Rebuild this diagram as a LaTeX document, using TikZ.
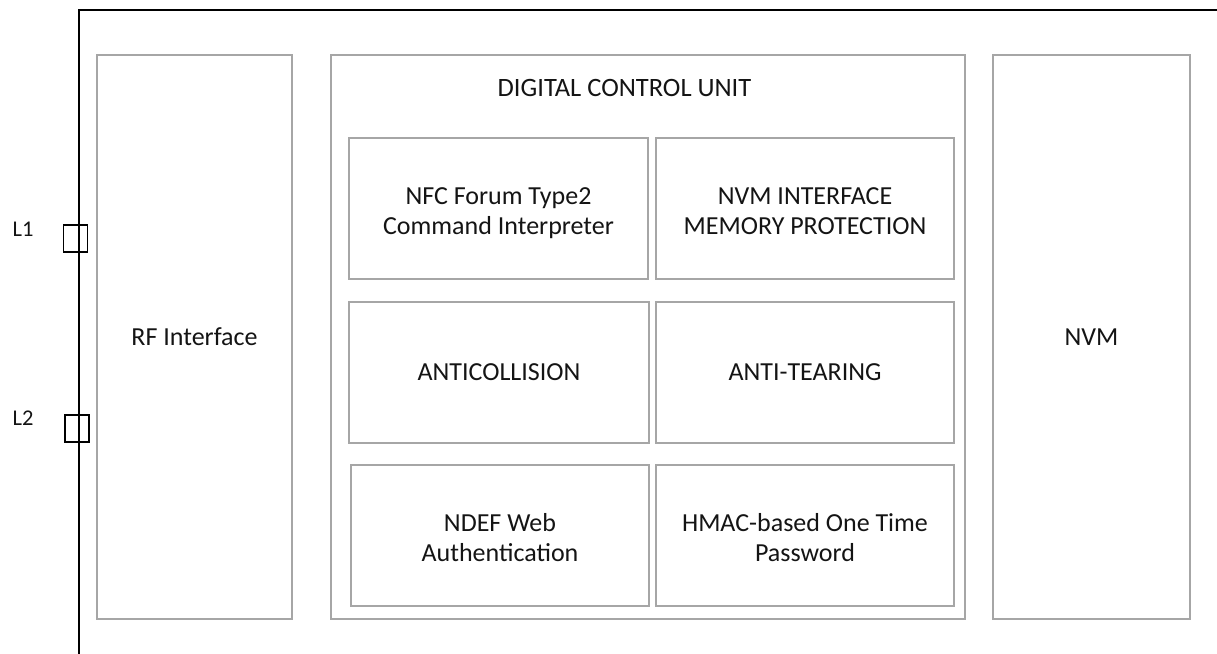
\documentclass[tikz,border=0pt]{standalone}
\usepackage{fontspec}
\setmainfont{Carlito}
\definecolor{boxgray}{RGB}{166,166,166}
\definecolor{txt}{RGB}{20,20,20}
\newcommand\twolines[2]{\rule{0pt}{28pt}#1\\#2\rule[-7pt]{0pt}{7pt}}
\begin{document}
\begin{tikzpicture}[x=1pt,y=-1pt,
  blk/.style={draw=boxgray, line width=2pt, inner sep=0pt, align=center, text=txt,
    font=\fontsize{26}{30}\selectfont},
  pin/.style={draw=black, line width=1.5pt, inner sep=0pt, minimum width=24pt, minimum height=27pt},
  pinlabel/.style={text=txt, inner sep=0pt, font=\fontsize{22.5}{26}\selectfont},
  frame/.style={draw=black, line width=2.2pt}]
\useasboundingbox (0,0) rectangle (1217,653);
% outer frame
\coordinate (tl) at (79,10);
\coordinate (tr) at (1218,10);
\coordinate (bl) at (79,654);
\draw[frame] (tr) -- (tl) -- (bl);
% pins
\node[pin] (p1) at (75.3,238.6) {};
\node[pin] (p2) at (76.8,428.6) {};
\node[pinlabel] (l1) at (23,229) {L1};
\node[pinlabel] (l2) at (23,418) {L2};
% main blocks
\node[blk, minimum width=195pt, minimum height=564pt] (rf) at (194.5,337) {RF Interface};
\node[blk, minimum width=634pt, minimum height=564pt] (dcu) at (648,337) {};
\node[blk, minimum width=197pt, minimum height=564pt] (nvm) at (1091.5,337) {NVM};
\node[text=txt, inner sep=0pt, font=\fontsize{26.5}{30}\selectfont] (title) at (624.5,88) {DIGITAL CONTROL UNIT};
% sub blocks
\node[blk, minimum width=299pt, minimum height=141pt] (nfc) at (498.5,208.5) {\twolines{NFC Forum Type2}{Command Interpreter}};
\node[blk, minimum width=298pt, minimum height=141pt] (nvmif) at (805,208.5) {\twolines{NVM INTERFACE}{MEMORY PROTECTION}};
\node[blk, minimum width=300pt, minimum height=141.6pt] (anticol) at (499,372.5) {ANTICOLLISION};
\node[blk, minimum width=298pt, minimum height=141.6pt] (antitear) at (805,372.5) {ANTI-TEARING};
\node[blk, minimum width=298pt, minimum height=141pt] (ndef) at (500,535.5) {\twolines{NDEF Web}{Authentication}};
\node[blk, minimum width=298pt, minimum height=141pt] (hmac) at (805,535.5) {\twolines{HMAC-based One Time}{Password}};
\end{tikzpicture}
\end{document}
